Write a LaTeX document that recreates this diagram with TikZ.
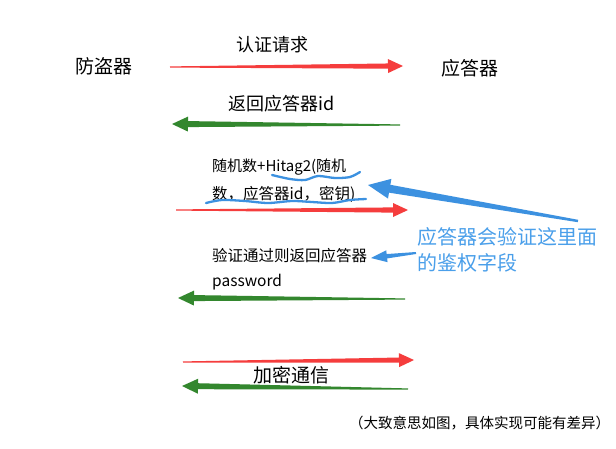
\documentclass[tikz,border=0pt]{standalone}
\usepackage{fontspec}
\setmainfont{Noto Sans CJK SC}
\usetikzlibrary{calc}
\definecolor{ared}{HTML}{F53D3D}
\definecolor{agreen}{HTML}{33872E}
\definecolor{ablue}{HTML}{3C91E0}
\definecolor{tblue}{HTML}{4A9FEA}
\newcommand\mytaper[7]{%
  \coordinate (tmpH) at ($(#2)!#7!(#1)$);
  \fill[#3] ($(#1)!#4!90:(#2)$) -- ($(tmpH)!#5!90:(#2)$) -- ($(tmpH)!#6!90:(#2)$) -- (#2)
    -- ($(tmpH)!#6!-90:(#2)$) -- ($(tmpH)!#5!-90:(#2)$) -- ($(#1)!#4!-90:(#2)$) -- cycle;}
\tikzset{
  lbl/.style={anchor=west,inner sep=0pt,font=\fontsize{#1}{#1}\selectfont},
  lbl/.default=15,
  bluelbl/.style={lbl=20,text=tblue},
  squig/.style={draw=ablue,line width=2.3pt,line cap=round}
}
\begin{document}
\begin{tikzpicture}[x=1pt,y=-1pt]
\useasboundingbox[fill=white] (0,0) rectangle (616,448);
% party labels
\node[lbl=19] (fd) at (75,66) {防盗器};
\node[lbl=19] (yd) at (441,68) {应答器};
% step 1
\node[lbl=18] (t1) at (236,45) {认证请求};
\coordinate (a1s) at (170,67); \coordinate (a1e) at (403,66);
\mytaper{a1s}{a1e}{ared}{0.6pt}{2.6pt}{7pt}{15pt}
% step 2
\node[lbl=18] (t2) at (228,104) {返回应答器id};
\coordinate (a2s) at (400,125); \coordinate (a2e) at (172,124);
\mytaper{a2s}{a2e}{agreen}{0.6pt}{3pt}{7.5pt}{16pt}
% step 3
\node[lbl=15] (t3a) at (212,167) {随机数+Hitag2(随机};
\node[lbl=15.5] (t3b) at (212,194) {数，应答器id，密钥)};
\draw[squig] plot[smooth] coordinates {(272,175) (290,179) (305,180) (318,176) (335,178) (350,177) (360,172)};
\draw[squig] plot[smooth] coordinates {(206,203) (222,200) (245,201) (268,203) (292,201) (312,202) (332,203) (350,200) (366,199)};
\coordinate (a3s) at (176,210); \coordinate (a3e) at (408,210);
\mytaper{a3s}{a3e}{ared}{0.6pt}{2.6pt}{7pt}{15pt}
% annotation
\node[bluelbl] (ann1) at (417,237) {应答器会验证这里面};
\node[bluelbl] (ann2) at (417,263) {的鉴权字段};
\coordinate (b1s) at (578,221); \coordinate (b1e) at (368,185);
\mytaper{b1s}{b1e}{ablue}{1.2pt}{4pt}{10pt}{22pt}
\coordinate (b2s) at (416,253); \coordinate (b2e) at (371,258);
\mytaper{b2s}{b2e}{ablue}{1pt}{2.2pt}{6pt}{16pt}
% step 4
\node[lbl=15.5] (t4a) at (212,256) {验证通过则返回应答器};
\node[lbl=15.5] (t4b) at (212,282) {password};
\coordinate (a4s) at (405,299); \coordinate (a4e) at (178,298);
\mytaper{a4s}{a4e}{agreen}{0.6pt}{3pt}{7.5pt}{16pt}
% step 5
\coordinate (a5s) at (183,362); \coordinate (a5e) at (414,360);
\mytaper{a5s}{a5e}{ared}{0.6pt}{2.6pt}{7pt}{15pt}
\node[lbl=19] (t5) at (253,375) {加密通信};
\coordinate (a6s) at (408,389); \coordinate (a6e) at (182,386);
\mytaper{a6s}{a6e}{agreen}{0.6pt}{3pt}{7.5pt}{16pt}
% note
\node[lbl=14.5] (note) at (349,423) {（大致意思如图，具体实现可能有差异）};
\end{tikzpicture}
\end{document}
